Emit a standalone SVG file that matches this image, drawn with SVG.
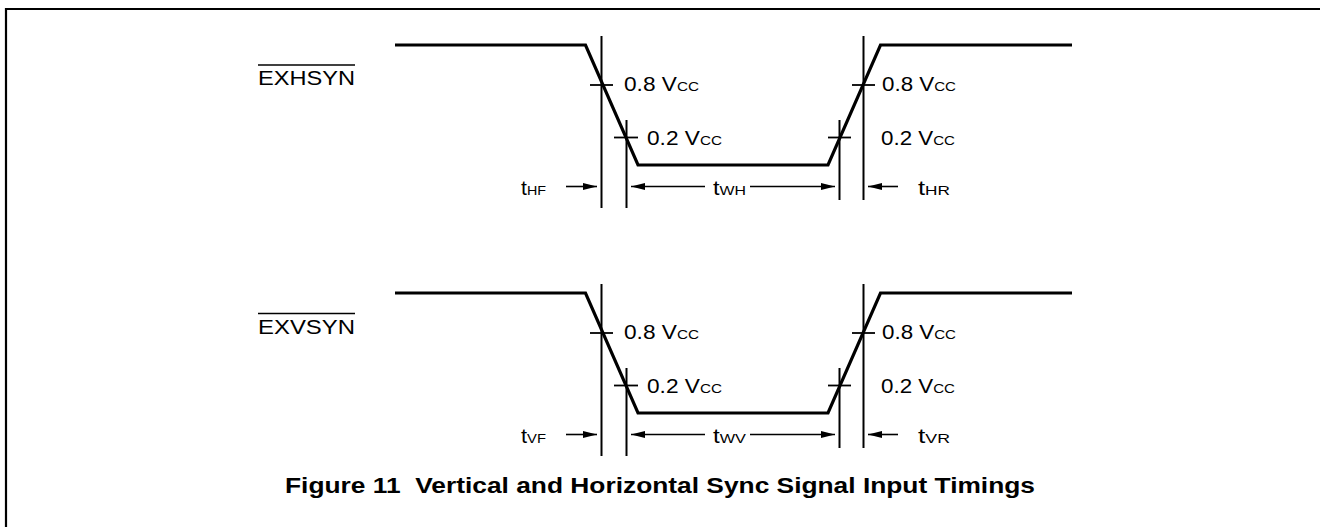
<svg xmlns="http://www.w3.org/2000/svg" width="1320" height="527" viewBox="0 0 1320 527">
<style>
.wave{fill:none;stroke:#000;stroke-width:3.2;stroke-linejoin:miter}
.vl{stroke:#000;stroke-width:2}
.tk{stroke:#000;stroke-width:1.8}
.ar{stroke:#000;stroke-width:1.6}
.t{font-family:"Liberation Sans",Arial,sans-serif;font-size:20px;fill:#000}
.s{font-size:13.5px}
.cap{font-family:"Liberation Sans",Arial,sans-serif;font-size:22px;font-weight:bold;fill:#000;white-space:pre}
</style>
<defs>
<marker id="ah" viewBox="0 0 14 8" refX="14" refY="4" markerWidth="14" markerHeight="8" markerUnits="userSpaceOnUse" orient="auto">
<path d="M0,0.5 L14,4 L0,7.5 Z" fill="#000"/>
</marker>
</defs>
<rect width="1320" height="527" fill="#fff"/>
<path d="M6,527 V9 H1320" fill="none" stroke="#000" stroke-width="2.2"/>

<g id="hsync">
<g id="hsync-label">
<text class="t" x="258" y="85" textLength="97" lengthAdjust="spacingAndGlyphs">EXHSYN</text>
<line x1="258" y1="65" x2="355" y2="65" stroke="#000" stroke-width="1.5"/>
</g>
<path class="wave" d="M395,45 H585.5 L638,165 H828 L880.5,45 H1072"/>
<g id="hsync-connectors">
<line class="vl" x1="601.5" y1="36" x2="601.5" y2="208"/>
<line class="vl" x1="626.5" y1="120" x2="626.5" y2="208"/>
<line class="vl" x1="839.5" y1="120" x2="839.5" y2="200"/>
<line class="vl" x1="863.5" y1="36" x2="863.5" y2="200"/>
<line class="tk" x1="590" y1="85" x2="613" y2="85"/>
<line class="tk" x1="614" y1="137.5" x2="638" y2="137.5"/>
<line class="tk" x1="828" y1="137.5" x2="851" y2="137.5"/>
<line class="tk" x1="852" y1="85" x2="875" y2="85"/>
<line class="ar" x1="566" y1="186.5" x2="597" y2="186.5" marker-end="url(#ah)"/>
<line class="ar" x1="705" y1="186.5" x2="631" y2="186.5" marker-end="url(#ah)"/>
<line class="ar" x1="750" y1="186.5" x2="835" y2="186.5" marker-end="url(#ah)"/>
<line class="ar" x1="898" y1="186.5" x2="868" y2="186.5" marker-end="url(#ah)"/>
</g>
<text class="t" x="624" y="91" textLength="75" lengthAdjust="spacingAndGlyphs">0.8 V<tspan class="s">CC</tspan></text>
<text class="t" x="647" y="145" textLength="75" lengthAdjust="spacingAndGlyphs">0.2 V<tspan class="s">CC</tspan></text>
<text class="t" x="882" y="91" textLength="74" lengthAdjust="spacingAndGlyphs">0.8 V<tspan class="s">CC</tspan></text>
<text class="t" x="881" y="145" textLength="74" lengthAdjust="spacingAndGlyphs">0.2 V<tspan class="s">CC</tspan></text>
<text class="t" x="521" y="195" textLength="25" lengthAdjust="spacingAndGlyphs">t<tspan class="s">HF</tspan></text>
<text class="t" x="713" y="195" textLength="33" lengthAdjust="spacingAndGlyphs">t<tspan class="s">WH</tspan></text>
<text class="t" x="918" y="195" textLength="32" lengthAdjust="spacingAndGlyphs">t<tspan class="s">HR</tspan></text>
</g>

<g id="vsync" transform="translate(0,248)">
<g id="vsync-label">
<text class="t" x="258" y="86" textLength="97" lengthAdjust="spacingAndGlyphs">EXVSYN</text>
<line x1="258" y1="65.5" x2="355" y2="65.5" stroke="#000" stroke-width="1.5"/>
</g>
<path class="wave" d="M395,45 H585.5 L638,165 H828 L880.5,45 H1072"/>
<g id="vsync-connectors">
<line class="vl" x1="601.5" y1="36" x2="601.5" y2="208"/>
<line class="vl" x1="626.5" y1="120" x2="626.5" y2="208"/>
<line class="vl" x1="839.5" y1="120" x2="839.5" y2="200"/>
<line class="vl" x1="863.5" y1="36" x2="863.5" y2="200"/>
<line class="tk" x1="590" y1="85" x2="613" y2="85"/>
<line class="tk" x1="614" y1="137.5" x2="638" y2="137.5"/>
<line class="tk" x1="828" y1="137.5" x2="851" y2="137.5"/>
<line class="tk" x1="852" y1="85" x2="875" y2="85"/>
<line class="ar" x1="566" y1="186.5" x2="597" y2="186.5" marker-end="url(#ah)"/>
<line class="ar" x1="705" y1="186.5" x2="631" y2="186.5" marker-end="url(#ah)"/>
<line class="ar" x1="750" y1="186.5" x2="835" y2="186.5" marker-end="url(#ah)"/>
<line class="ar" x1="898" y1="186.5" x2="868" y2="186.5" marker-end="url(#ah)"/>
</g>
<text class="t" x="624" y="91" textLength="75" lengthAdjust="spacingAndGlyphs">0.8 V<tspan class="s">CC</tspan></text>
<text class="t" x="647" y="145" textLength="75" lengthAdjust="spacingAndGlyphs">0.2 V<tspan class="s">CC</tspan></text>
<text class="t" x="882" y="91" textLength="74" lengthAdjust="spacingAndGlyphs">0.8 V<tspan class="s">CC</tspan></text>
<text class="t" x="881" y="145" textLength="74" lengthAdjust="spacingAndGlyphs">0.2 V<tspan class="s">CC</tspan></text>
<text class="t" x="521" y="195" textLength="25" lengthAdjust="spacingAndGlyphs">t<tspan class="s">VF</tspan></text>
<text class="t" x="713" y="195" textLength="33" lengthAdjust="spacingAndGlyphs">t<tspan class="s">WV</tspan></text>
<text class="t" x="918" y="195" textLength="32" lengthAdjust="spacingAndGlyphs">t<tspan class="s">VR</tspan></text>
</g>

<text id="caption" class="cap" x="660" y="493" text-anchor="middle" textLength="750" lengthAdjust="spacingAndGlyphs">Figure 11&#160; Vertical and Horizontal Sync Signal Input Timings</text>
</svg>
